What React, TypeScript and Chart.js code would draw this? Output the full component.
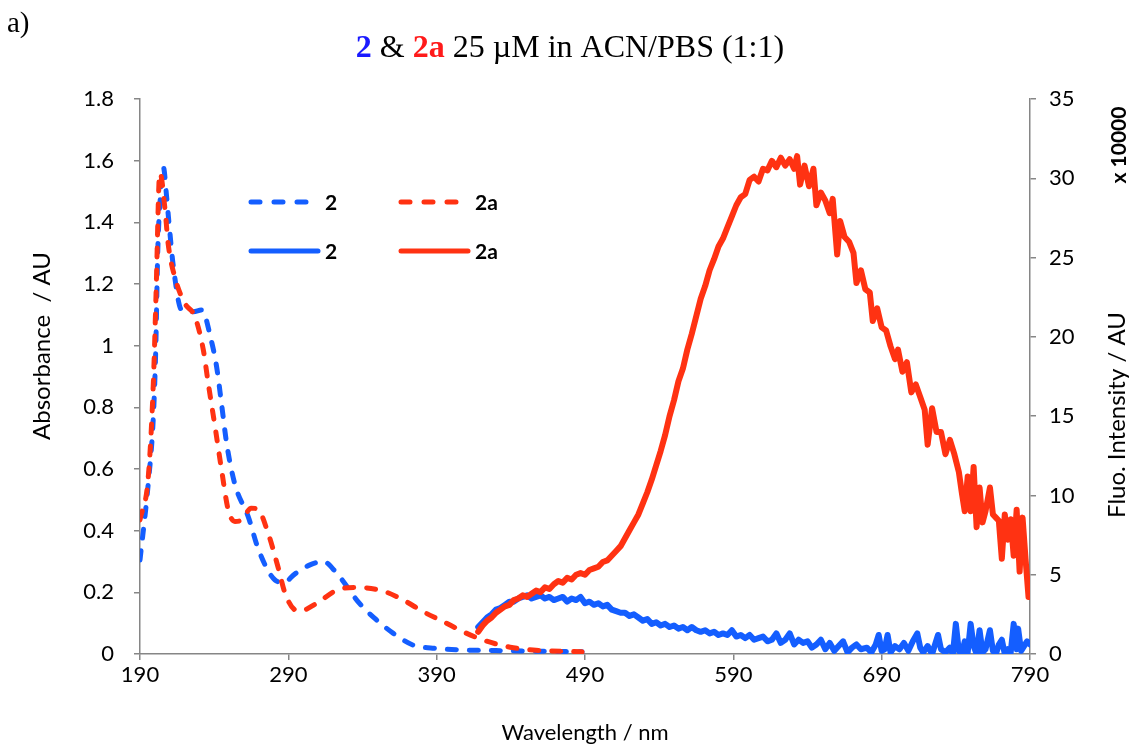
import React, { useEffect, useRef } from "react";
import { Chart, registerables } from "chart.js";
Chart.register(...registerables);

// ---------- data ----------
const xTicks = [190, 290, 390, 490, 590, 690, 790];
const yLeftTicks = [0, 0.2, 0.4, 0.6, 0.8, 1, 1.2, 1.4, 1.6, 1.8];
const yRightTicks = [0, 5, 10, 15, 20, 25, 30, 35];

// Absorbance of 2 (dashed blue)
const abs2X = [190, 195.6, 199, 200.6, 202, 204, 205.7, 208, 209.5, 212.5, 218, 226, 231.6, 238, 241.7, 245, 248.5, 254, 263, 270, 281, 287, 294.5, 305, 313.6, 322.6, 338, 349.6, 360.8, 374, 390, 408, 430, 460, 488];
const abs2Y = [0.305, 0.555, 0.77, 0.985, 1.31, 1.5, 1.58, 1.48, 1.40, 1.256, 1.116, 1.11, 1.116, 1.018, 0.93, 0.81, 0.68, 0.55, 0.445, 0.337, 0.24, 0.232, 0.26, 0.29, 0.30, 0.262, 0.164, 0.11, 0.067, 0.029, 0.018, 0.013, 0.011, 0.009, 0.007];

// Absorbance of 2a (dashed red)
const abs2aX = [190, 195.6, 199, 201, 202.8, 203.5, 206.9, 209, 213.6, 220.3, 227, 232.7, 236, 240.6, 245, 249.5, 254, 258.5, 265, 269.8, 276.5, 283, 287.8, 294.5, 298, 309, 322.6, 336, 354, 367.5, 381, 394.5, 408, 421.5, 439.5, 455, 488];
const abs2aY = [0.435, 0.575, 0.88, 1.2, 1.53, 1.56, 1.44, 1.33, 1.22, 1.137, 1.094, 0.986, 0.878, 0.737, 0.597, 0.467, 0.43, 0.435, 0.473, 0.467, 0.39, 0.283, 0.197, 0.143, 0.14, 0.164, 0.207, 0.216, 0.204, 0.175, 0.137, 0.105, 0.072, 0.045, 0.022, 0.013, 0.007];

// Fluorescence of 2 (solid blue), x 10000
const fl2X = [418, 421, 424, 427, 430, 433, 436, 439, 442, 445, 448, 451, 454, 457, 460, 463, 466, 469, 472, 475, 478, 481, 484, 487, 490, 493, 496, 499, 502, 505, 508, 511, 514, 517, 520, 523, 526, 529, 532, 535, 538, 541, 544, 547, 550, 553, 556, 559, 562, 565, 568, 571, 574, 577, 580, 583, 586, 589, 592, 595, 598, 601, 604, 607, 610, 613, 616, 619, 622, 625, 628, 631, 634, 637, 640, 643, 646, 649, 652, 655, 658, 661, 664, 667, 670, 673, 676, 680, 683, 686, 688, 690, 692, 694, 696, 699, 702, 705, 708, 711, 714, 716, 718, 721, 724, 726, 728, 730, 733, 736, 738, 740, 742, 744, 746, 748, 750, 752, 754, 756, 758, 760, 763, 765, 767, 769, 771, 773, 775, 777, 779, 781, 782, 784, 786, 788, 790];
const fl2Y = [1.7, 2.0, 2.3, 2.5, 2.8, 2.9, 3.1, 3.3, 3.3, 3.5, 3.6, 3.7, 3.5, 3.6, 3.7, 3.5, 3.6, 3.4, 3.5, 3.6, 3.3, 3.5, 3.4, 3.6, 3.2, 3.3, 3.1, 3.2, 3.0, 3.1, 2.8, 2.7, 2.6, 2.6, 2.4, 2.5, 2.3, 2.1, 2.2, 1.9, 2.0, 1.8, 1.9, 1.7, 1.8, 1.6, 1.7, 1.5, 1.7, 1.5, 1.4, 1.5, 1.3, 1.4, 1.2, 1.3, 1.2, 1.5, 1.1, 1.2, 1.0, 1.2, 0.9, 1.0, 1.1, 0.8, 0.9, 1.3, 0.7, 0.9, 1.3, 0.6, 0.9, 0.7, 0.8, 0.4, 0.6, 0.9, 0.3, 0.7, 0.2, 0.5, 0.8, 0.1, 0.4, 0.6, 0.3, 0.4, 0.1, 0.6, 1.2, 0.2, 0.3, 1.2, 0.1, 0.5, 0.3, 0.7, 0.2, 0.8, 1.3, 0.4, 0.1, 0.5, 0.0, 0.6, 1.2, 0.3, 0.1, 0.4, 0.0, 1.9, 0.2, 0.0, 0.8, 0.1, 1.9, 0.5, 0.0, 1.5, 0.1, 0.3, 1.5, 0.2, 0.0, 0.6, 0.9, 0.0, 0.3, 0.1, 1.9, 0.3, 1.6, 0.2, 0.5, 0.8, 0.6];

// Fluorescence of 2a (solid red), x 10000
const fl2aX = [418, 421, 424, 427, 430, 433, 436, 439, 442, 445, 448, 451, 454, 457, 460, 463, 466, 469, 472, 475, 478, 481, 484, 487, 490, 493, 496, 499, 502, 505, 508, 511, 514, 517, 520, 523, 526, 529, 532, 535, 538, 541, 544, 547, 550, 553, 556, 559, 562, 565, 568, 571, 574, 577, 580, 583, 586, 589, 592, 595, 598, 601, 604, 607, 610, 613, 616, 619, 622, 625, 628, 631, 633, 635, 638, 641, 644, 646, 649, 652, 655, 657, 660, 662, 665, 668, 671, 673, 676, 679, 682, 684, 687, 690, 693, 696, 699, 701, 704, 707, 710, 713, 716, 719, 721, 724, 727, 730, 733, 736, 739, 742, 744, 746, 748, 750, 752, 754, 756, 758, 760, 763, 765, 767, 769, 771, 773, 775, 777, 779, 781, 783, 785, 787, 789];
const fl2aY = [1.4, 1.8, 2.1, 2.3, 2.6, 2.8, 3.0, 3.1, 3.4, 3.5, 3.7, 3.6, 3.8, 4.0, 3.9, 4.2, 4.1, 4.4, 4.6, 4.5, 4.8, 4.7, 5.0, 5.1, 5.0, 5.3, 5.4, 5.5, 5.8, 5.9, 6.2, 6.5, 6.8, 7.3, 7.8, 8.3, 8.8, 9.5, 10.2, 11.0, 11.9, 12.8, 13.8, 15.0, 16.0, 17.2, 18.0, 19.2, 20.2, 21.3, 22.4, 23.2, 24.2, 24.9, 25.7, 26.2, 26.9, 27.6, 28.3, 28.8, 29.0, 29.9, 30.1, 29.8, 30.6, 30.5, 31.1, 30.7, 31.3, 30.8, 31.2, 30.6, 31.4, 29.6, 30.8, 29.5, 30.6, 28.3, 29.1, 28.6, 27.8, 28.7, 25.2, 27.3, 26.3, 26.0, 25.3, 23.4, 24.2, 23.0, 22.8, 21.0, 21.8, 20.6, 20.4, 19.4, 18.6, 19.2, 17.8, 18.4, 16.5, 17.0, 16.2, 15.4, 13.2, 15.5, 14.0, 14.0, 12.6, 13.5, 12.6, 11.5, 10.2, 9.0, 11.2, 9.0, 11.8, 8.0, 10.5, 8.3, 9.0, 10.5, 8.8, 8.6, 8.4, 6.0, 8.8, 7.2, 8.5, 6.2, 9.1, 5.2, 8.6, 6.0, 3.6];

// ---------- styles ----------
const BLUE = "rgb(20,94,255)";
const RED = "rgb(255,50,18)";
const AXIS = "#868686";
const SANS = "Lato";
const SERIF = '"Liberation Serif", "Times New Roman", serif';

const pts = (xs: number[], ys: number[]) => xs.map((x, i) => ({ x, y: ys[i] }));

const textPlugin = {
  id: "texts",
  afterDraw(chart: any) {
    const ctx = chart.ctx as CanvasRenderingContext2D;
    const a = chart.chartArea;
    ctx.save();
    ctx.fillStyle = "#000";
    ctx.textBaseline = "middle";

    // "a)"
    ctx.font = `29px ${SERIF}`;
    ctx.textAlign = "left";
    ctx.fillText("a)", 7, 24);

    // title
    const segs = [
      { t: "2", f: `bold 32px ${SERIF}`, c: "#1a1aff" },
      { t: " & ", f: `32px ${SERIF}`, c: "#000" },
      { t: "2a", f: `bold 32px ${SERIF}`, c: "#ff1a1a" },
      { t: " 25 \u00b5M in ACN/PBS (1:1)", f: `32px ${SERIF}`, c: "#000" },
    ];
    let total = 0;
    segs.forEach((s) => { ctx.font = s.f; total += ctx.measureText(s.t).width; });
    let cx = 570 - total / 2;
    segs.forEach((s) => {
      ctx.font = s.f; ctx.fillStyle = s.c; ctx.textAlign = "left";
      ctx.fillText(s.t, cx, 49);
      cx += ctx.measureText(s.t).width;
    });

    // axis titles
    ctx.fillStyle = "#000";
    ctx.font = `22px ${SANS}`;
    ctx.textAlign = "center";
    ctx.fillText("Wavelength / nm", (a.left + a.right) / 2, 733);

    ctx.save();
    ctx.translate(42, 346);
    ctx.rotate(-Math.PI / 2);
    ctx.font = `24px ${SANS}`;
    ctx.fillText("Absorbance  / AU", 0, 0);
    ctx.restore();

    ctx.save();
    ctx.translate(1117, 415);
    ctx.rotate(-Math.PI / 2);
    ctx.font = `24px ${SANS}`;
    ctx.fillText("Fluo. Intensity / AU", 0, 0);
    ctx.restore();

    ctx.save();
    ctx.translate(1119, 145);
    ctx.rotate(-Math.PI / 2);
    ctx.font = `bold 21px ${SANS}`;
    ctx.fillText("x 10000", 0, 0);
    ctx.restore();

    // legend
    const items = [
      { x: 248, y: 202, c: BLUE, dash: true, t: "2" },
      { x: 398, y: 202, c: RED, dash: true, t: "2a" },
      { x: 248, y: 251, c: BLUE, dash: false, t: "2" },
      { x: 398, y: 251, c: RED, dash: false, t: "2a" },
    ];
    items.forEach((it) => {
      ctx.save();
      ctx.strokeStyle = it.c;
      ctx.lineWidth = 5;
      ctx.lineCap = "round";
      ctx.setLineDash(it.dash ? [9, 14] : []);
      ctx.beginPath();
      ctx.moveTo(it.x + 3, it.y);
      ctx.lineTo(it.x + (it.dash ? 62 : 70), it.y);
      ctx.stroke();
      ctx.restore();
      ctx.font = `bold 21px ${SANS}`;
      ctx.fillStyle = "#000";
      ctx.textAlign = "left";
      ctx.fillText(it.t, it.x + 77, it.y + 1);
    });

    ctx.restore();
  },
};

export default function App() {
  const ref = useRef<HTMLCanvasElement | null>(null);

  useEffect(() => {
    if (!ref.current) return;
    const gridCommon = {
      display: true,
      drawOnChartArea: false,
      drawTicks: true,
      tickLength: 6,
      color: AXIS,
      lineWidth: 1.5,
    };
    const border = { display: true, color: AXIS, width: 1.5 };
    const tickFont = { family: SANS, size: 22 };

    const chart = new Chart(ref.current, {
      type: "line",
      data: {
        datasets: [
          {
            label: "2 (abs)",
            data: pts(abs2X, abs2Y),
            yAxisID: "y",
            borderColor: BLUE,
            borderWidth: 5,
            borderDash: [9, 13],
            borderCapStyle: "round",
            pointRadius: 0,
            cubicInterpolationMode: "monotone",
            order: 4,
          },
          {
            label: "2a (abs)",
            data: pts(abs2aX, abs2aY),
            yAxisID: "y",
            borderColor: RED,
            borderWidth: 5,
            borderDash: [9, 13],
            borderCapStyle: "round",
            pointRadius: 0,
            cubicInterpolationMode: "monotone",
            order: 3,
          },
          {
            label: "2 (fl)",
            data: pts(fl2X, fl2Y),
            yAxisID: "y2",
            borderColor: BLUE,
            borderWidth: 6,
            borderJoinStyle: "round",
            borderCapStyle: "round",
            pointRadius: 0,
            tension: 0,
            order: 2,
          },
          {
            label: "2a (fl)",
            data: pts(fl2aX, fl2aY),
            yAxisID: "y2",
            borderColor: RED,
            borderWidth: 6,
            borderJoinStyle: "round",
            borderCapStyle: "round",
            pointRadius: 0,
            tension: 0,
            order: 1,
          },
        ],
      },
      options: {
        animation: false,
        responsive: false,
        maintainAspectRatio: false,
        layout: { padding: { top: 99, left: 0, right: 0, bottom: 0 } },
        plugins: {
          legend: { display: false },
          tooltip: { enabled: false },
          title: { display: false },
        },
        scales: {
          x: {
            type: "linear",
            min: 190,
            max: 790,
            afterBuildTicks: (s: any) => { s.ticks = xTicks.map((v) => ({ value: v })); },
            afterFit: (s: any) => { s.height = 95; },
            ticks: { font: tickFont, color: "#000", padding: 2, callback: (v: any) => String(v), maxRotation: 0, autoSkip: false },
            grid: gridCommon,
            border,
          },
          y: {
            type: "linear",
            position: "left",
            min: 0,
            max: 1.8,
            afterBuildTicks: (s: any) => { s.ticks = yLeftTicks.map((v) => ({ value: v })); },
            afterFit: (s: any) => { s.width = 140; },
            ticks: { font: tickFont, color: "#000", padding: 20, autoSkip: false, callback: (v: any) => String(Number(Number(v).toFixed(1))) },
            grid: gridCommon,
            border,
          },
          y2: {
            type: "linear",
            position: "right",
            min: 0,
            max: 35,
            afterBuildTicks: (s: any) => { s.ticks = yRightTicks.map((v) => ({ value: v })); },
            afterFit: (s: any) => { s.width = 102; },
            ticks: { font: tickFont, color: "#000", padding: 13, autoSkip: false, callback: (v: any) => String(v) },
            grid: gridCommon,
            border,
          },
        },
      },
      plugins: [textPlugin],
    } as any);
    return () => chart.destroy();
  }, []);

  return (
    <div style={{ position: "absolute", left: 0, top: 0, width: 1132, height: 749, background: "#fff" }}>
      <canvas ref={ref} width={1132} height={749} style={{ width: 1132, height: 749, display: "block" }} />
    </div>
  );
}
